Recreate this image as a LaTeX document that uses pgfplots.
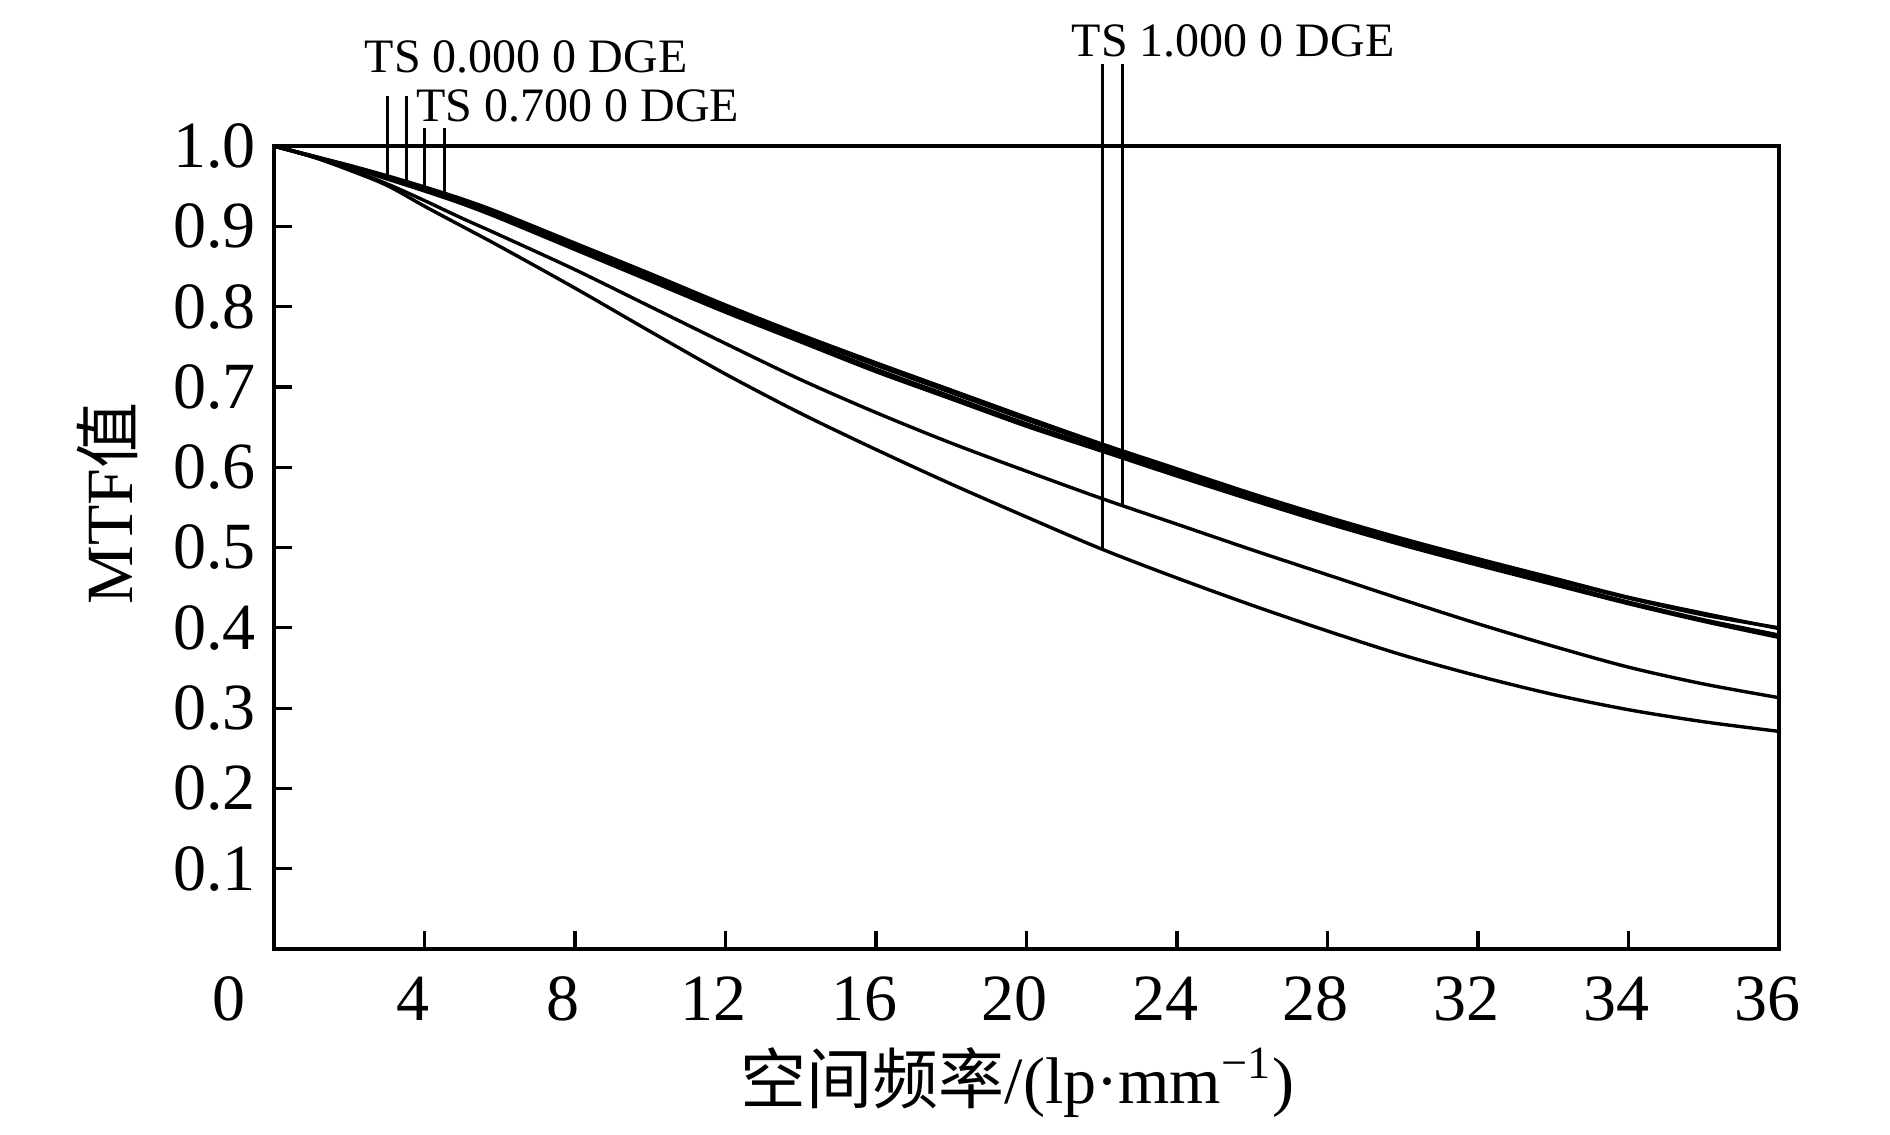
\documentclass[border=0pt]{standalone}
\usepackage{fontspec}
\setmainfont{Liberation Serif}
\newfontfamily\cjk{Noto Sans CJK SC}
\usepackage{pgfplots}
\usepackage{pgfplotstable}
\pgfplotsset{compat=1.18}

% x  A(0.000 T) B(0.000 S) C(0.700 T) D(0.700 S) M(1.000 S) L(1.000 T)
\pgfplotstableread{
x  A     B     C     D     M     L
0  1.000 1.000 1.000 1.000 1.000 1.000
1  0.988 0.988 0.987 0.987 0.987 0.987
2  0.976 0.975 0.974 0.974 0.971 0.970
3  0.963 0.962 0.960 0.959 0.953 0.951
4  0.949 0.948 0.946 0.944 0.932 0.925
5  0.934 0.932 0.930 0.928 0.910 0.900
6  0.917 0.914 0.912 0.910 0.889 0.875
8  0.879 0.876 0.873 0.871 0.846 0.823
10 0.841 0.838 0.835 0.832 0.800 0.769
12 0.802 0.800 0.796 0.793 0.754 0.716
14 0.765 0.763 0.759 0.756 0.709 0.667
16 0.730 0.727 0.722 0.719 0.668 0.622
18 0.696 0.693 0.688 0.685 0.630 0.579
20 0.662 0.659 0.654 0.651 0.595 0.538
22 0.629 0.627 0.623 0.620 0.561 0.498
24 0.598 0.596 0.592 0.589 0.529 0.462
26 0.567 0.565 0.561 0.559 0.497 0.428
28 0.538 0.536 0.532 0.530 0.466 0.396
30 0.511 0.509 0.505 0.503 0.435 0.366
32 0.486 0.484 0.480 0.478 0.405 0.340
34 0.462 0.460 0.456 0.454 0.377 0.317
36 0.438 0.437 0.432 0.430 0.351 0.298
38 0.418 0.416 0.410 0.408 0.330 0.283
40 0.399 0.400 0.391 0.388 0.313 0.271
}\mtf

\begin{document}
\begin{tikzpicture}
\begin{axis}[
  scale only axis, width=376.25bp, height=200.75bp,
  xmin=0, xmax=40, ymin=0, ymax=1,
  axis line style={line width=0.8bp},
  tick pos=left, tick align=inside,
  major tick length=4.5bp,
  tick style={line width=0.8bp, black},
  xtick={4,8,...,40},
  xticklabels={4,8,12,16,20,24,28,32,34,36},
  extra x ticks={0}, extra x tick labels={0},
  extra x tick style={xticklabel style={xshift=-8.25bp}, major tick length=0pt},
  ytick={0.1,0.2,0.3,0.4,0.5,0.6,0.7,0.8,0.9,1.0},
  yticklabels={0.1,0.2,0.3,0.4,0.5,0.6,0.7,0.8,0.9,1.0},
  ticklabel style={font=\fontsize{16.5bp}{19bp}\selectfont},
  xticklabel style={xshift=-3bp, yshift=-3.5bp},
  yticklabel style={xshift=-1bp},
  xlabel={{\cjk 空间频率}/(lp·mm\textsuperscript{−1})},
  xlabel style={at={(axis description cs:0.494,-0.192)}, anchor=base, font=\fontsize{16.5bp}{19bp}\selectfont},
  ylabel={MTF{\cjk 值}},
  ylabel style={at={(axis description cs:-0.111,0.555)}, anchor=center, font=\fontsize{16.5bp}{19bp}\selectfont},
  clip=false,
]
\addplot[black, line width=0.85bp, smooth, tension=0.5] table[x=x,y=A] {\mtf};
\addplot[black, line width=0.85bp, smooth, tension=0.5] table[x=x,y=B] {\mtf};
\addplot[black, line width=0.85bp, smooth, tension=0.5] table[x=x,y=C] {\mtf};
\addplot[black, line width=0.85bp, smooth, tension=0.5] table[x=x,y=D] {\mtf};
\addplot[black, line width=0.85bp, smooth, tension=0.5] table[x=x,y=M] {\mtf};
\addplot[black, line width=0.85bp, smooth, tension=0.5] table[x=x,y=L] {\mtf};
% annotation leader lines
\addplot[black, line width=0.7bp] coordinates {(3.01,0.962) (3.01,1.062)};
\addplot[black, line width=0.7bp] coordinates {(3.53,0.954) (3.53,1.062)};
\addplot[black, line width=0.7bp] coordinates {(4.01,0.948) (4.01,1.022)};
\addplot[black, line width=0.7bp] coordinates {(4.54,0.940) (4.54,1.022)};
\addplot[black, line width=0.7bp] coordinates {(22.02,0.498) (22.02,1.102)};
\addplot[black, line width=0.7bp] coordinates {(22.55,0.553) (22.55,1.102)};
\node[anchor=base west, inner sep=0, font=\fontsize{12bp}{14bp}\selectfont] at (axis cs:2.39,1.092) {TS 0.000 0 DGE};
\node[anchor=base west, inner sep=0, font=\fontsize{12bp}{14bp}\selectfont] at (axis cs:3.77,1.031) {TS 0.700 0 DGE};
\node[anchor=base west, inner sep=0, font=\fontsize{12bp}{14bp}\selectfont] at (axis cs:21.18,1.112) {TS 1.000 0 DGE};
\end{axis}
\pgfresetboundingbox
\path[use as bounding box] ([xshift=-68.5bp,yshift=-46.25bp]current axis.south west) rectangle ([xshift=27.75bp,yshift=36.5bp]current axis.north east);
\end{tikzpicture}
\end{document}
